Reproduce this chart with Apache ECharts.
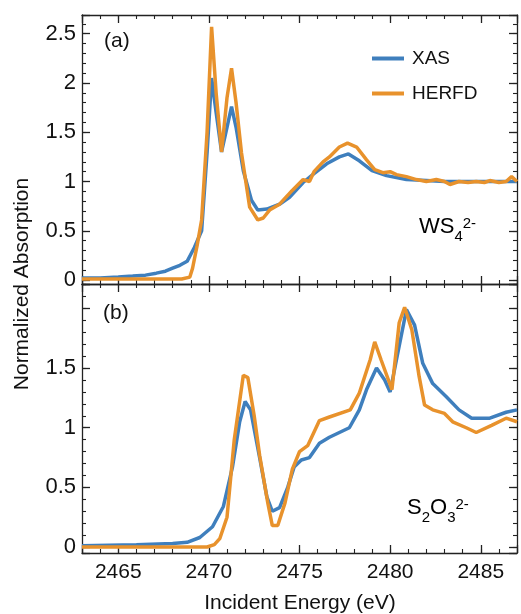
<!DOCTYPE html>
<html><head><meta charset="utf-8">
<script src="https://cdn.jsdelivr.net/npm/echarts@6/dist/echarts.min.js"></script>
<style>html,body{margin:0;padding:0;background:#fff}#c{width:521px;height:614px}</style>
</head><body><div id="c"></div>
<script>
// ---- data ----
const xTickLabels = [2465, 2470, 2475, 2480, 2485];
const yLabelsA = [0, 0.5, 1, 1.5, 2, 2.5];
const yLabelsB = [0, 0.5, 1, 1.5];

// Panel (a) WS4 2-
const ws4Xas = [[2463,0.02],[2464,0.02],[2465,0.03],[2465.8,0.04],[2466.5,0.05],[2467.1,0.07],[2467.6,0.09],[2468,0.12],[2468.4,0.15],[2468.8,0.19],[2469.2,0.33],[2469.6,0.5],[2469.9,1.29],[2470.15,2.05],[2470.4,1.7],[2470.7,1.30],[2471.0,1.55],[2471.25,1.76],[2471.5,1.55],[2471.9,1.11],[2472.35,0.81],[2472.7,0.71],[2473.2,0.72],[2473.9,0.77],[2474.45,0.84],[2475.2,0.99],[2475.8,1.08],[2476.5,1.18],[2477.2,1.25],[2477.7,1.28],[2478.3,1.21],[2479.0,1.11],[2479.8,1.06],[2480.9,1.02],[2482,1.01],[2483,1.0],[2484,1.0],[2485,1.0],[2486,1.0],[2487,1.0]];
const ws4Herfd = [[2463,0.01],[2465,0.01],[2467,0.01],[2468.5,0.01],[2468.95,0.03],[2469.1,0.12],[2469.35,0.35],[2469.6,0.61],[2469.9,1.5],[2470.15,2.57],[2470.4,1.9],[2470.7,1.30],[2471.0,1.85],[2471.25,2.15],[2471.5,1.8],[2471.8,1.29],[2472.25,0.74],[2472.7,0.61],[2473.0,0.63],[2473.35,0.71],[2473.9,0.77],[2474.6,0.91],[2475.2,1.02],[2475.55,1.0],[2475.8,1.10],[2476.3,1.20],[2476.65,1.25],[2477.2,1.35],[2477.65,1.39],[2478.15,1.35],[2478.7,1.22],[2479.15,1.12],[2479.6,1.09],[2480.0,1.10],[2480.35,1.07],[2480.9,1.05],[2481.45,1.02],[2482.0,1.0],[2482.55,1.02],[2483.0,1.0],[2483.3,0.97],[2483.8,1.0],[2484.3,0.99],[2484.75,1.0],[2485.2,0.99],[2485.5,1.01],[2486.0,0.99],[2486.4,1.0],[2486.7,1.05],[2487,1.0]];

// Panel (b) S2O3 2-
const s2o3Xas = [[2463,0.01],[2466,0.02],[2468,0.03],[2468.8,0.04],[2469.5,0.08],[2470.2,0.17],[2470.8,0.34],[2471.3,0.67],[2471.7,1.05],[2472.0,1.22],[2472.3,1.15],[2472.8,0.75],[2473.2,0.42],[2473.5,0.30],[2473.9,0.33],[2474.35,0.50],[2474.7,0.67],[2475.1,0.73],[2475.55,0.75],[2476.1,0.87],[2476.65,0.92],[2477.2,0.96],[2477.75,1.0],[2478.3,1.15],[2478.7,1.32],[2479.25,1.50],[2479.7,1.40],[2480.0,1.30],[2480.35,1.57],[2480.9,1.99],[2481.35,1.86],[2481.8,1.54],[2482.35,1.37],[2483.1,1.26],[2483.8,1.15],[2484.5,1.08],[2485.5,1.08],[2486.4,1.13],[2487,1.15]];
const s2o3Herfd = [[2463,0.0],[2469.9,0.0],[2470.3,0.02],[2470.6,0.07],[2471.0,0.25],[2471.4,0.9],[2471.9,1.44],[2472.15,1.42],[2472.5,1.1],[2472.8,0.77],[2473.25,0.37],[2473.5,0.18],[2473.8,0.18],[2474.2,0.37],[2474.6,0.65],[2475.0,0.80],[2475.45,0.85],[2476.1,1.06],[2476.65,1.09],[2477.8,1.15],[2478.3,1.29],[2478.9,1.57],[2479.15,1.72],[2479.5,1.57],[2480.1,1.32],[2480.5,1.88],[2480.8,2.01],[2481.2,1.82],[2481.6,1.43],[2481.9,1.19],[2482.35,1.15],[2483.0,1.12],[2483.45,1.05],[2484.2,1.0],[2484.75,0.96],[2485.6,1.02],[2486.4,1.08],[2487,1.05]];

// ---- styling / layout ----
const FONT = 'Liberation Sans, Arial, sans-serif';
const BLUE = '#3f7fbd', ORANGE = '#e8922c';
const lineCol = '#222';
const inList = (list, v) => list.some(t => Math.abs(t - v) < 1e-6);

// splitNumber chosen so the nice interval is 5 / 1 on x and 0.5 / 0.1 on y
function majorAxis(g, pos, min, max, label) {
  return { type: 'value', gridIndex: g, position: pos, splitNumber: 5, min: min, max: max,
    splitLine: { show: false },
    axisLine: { show: true, onZero: false, lineStyle: { color: lineCol, width: 1.3 } },
    axisTick: { show: true, inside: true, length: 8, lineStyle: { color: lineCol, width: 1.3 } },
    axisLabel: label || { show: false } };
}
function minorAxis(g, pos, min, max, split) {
  return { type: 'value', gridIndex: g, position: pos, splitNumber: split, min: min, max: max,
    splitLine: { show: false },
    axisLine: { show: false, onZero: false },
    axisTick: { show: true, inside: true, length: 4, lineStyle: { color: lineCol, width: 1.1 } },
    axisLabel: { show: false } };
}
const xLab = { show: true, fontFamily: FONT, fontSize: 21, color: '#111', margin: 9,
  formatter: v => inList(xTickLabels, v) ? String(Math.round(v)) : '' };
const yLab = labels => ({ show: true, fontFamily: FONT, fontSize: 22, color: '#111', margin: 6,
  formatter: v => inList(labels, v) ? String(Math.round(v * 2) / 2) : '' });

const X0 = 2463, X1 = 2487;
const YA0 = -0.04, YA1 = 2.69, YB0 = -0.05, YB1 = 2.205;
const xAxis = [
  majorAxis(0, 'bottom', X0, X1), minorAxis(0, 'bottom', X0, X1, 24), majorAxis(0, 'top', X0, X1), minorAxis(0, 'top', X0, X1, 24),
  majorAxis(1, 'bottom', X0, X1, xLab), minorAxis(1, 'bottom', X0, X1, 24), majorAxis(1, 'top', X0, X1), minorAxis(1, 'top', X0, X1, 24)
];
const yAxis = [
  majorAxis(0, 'left', YA0, YA1, yLab(yLabelsA)), minorAxis(0, 'left', YA0, YA1, 27), majorAxis(0, 'right', YA0, YA1), minorAxis(0, 'right', YA0, YA1, 27),
  majorAxis(1, 'left', YB0, YB1, yLab(yLabelsB)), minorAxis(1, 'left', YB0, YB1, 22), majorAxis(1, 'right', YB0, YB1), minorAxis(1, 'right', YB0, YB1, 22)
];

function ser(name, data, color, idx) {
  return { type: 'line', name: name, data: data, xAxisIndex: idx, yAxisIndex: idx, showSymbol: false,
    lineStyle: { color: color, width: 3.5 }, itemStyle: { color: color } };
}

const chemRich = {
  b: { fontFamily: FONT, fontSize: 22, lineHeight: 22, color: '#111', verticalAlign: 'top' },
  sub: { fontFamily: FONT, fontSize: 15, lineHeight: 15, color: '#111', verticalAlign: 'top', padding: [13, 0, 0, 0] },
  sup: { fontFamily: FONT, fontSize: 15, lineHeight: 15, color: '#111', verticalAlign: 'top' }
};

const option = {
  animation: false,
  grid: [
    { left: 82, top: 15, width: 435, height: 269 },
    { left: 82, top: 284, width: 435, height: 269 }
  ],
  xAxis: xAxis,
  yAxis: yAxis,
  legend: {
    data: ['XAS', 'HERFD'], orient: 'vertical', left: 367, top: 44, itemWidth: 32, itemHeight: 4, itemGap: 16,
    icon: 'rect', textStyle: { fontFamily: FONT, fontSize: 19, color: '#111', padding: [0, 0, 0, 3] }
  },
  series: [
    ser('XAS', ws4Xas, BLUE, 0),
    ser('HERFD', ws4Herfd, ORANGE, 0),
    ser('XAS', s2o3Xas, BLUE, 4),
    ser('HERFD', s2o3Herfd, ORANGE, 4)
  ],
  graphic: [
    { type: 'text', left: 104, top: 31, style: { text: '(a)', font: '21px ' + FONT, fill: '#111' } },
    { type: 'text', left: 103, top: 303, style: { text: '(b)', font: '21px ' + FONT, fill: '#111' } },
    { type: 'text', left: 419, top: 216, style: { text: '{b|WS}{sub|4}{sup|2-}', rich: chemRich } },
    { type: 'text', left: 407, top: 497, style: { text: '{b|S}{sub|2}{b|O}{sub|3}{sup|2-}', rich: chemRich } },
    { type: 'text', x: 300, y: 603, style: { text: 'Incident Energy (eV)', font: '21px ' + FONT, fill: '#111', align: 'center', verticalAlign: 'middle' } },
    { type: 'text', x: 22, y: 284, rotation: Math.PI / 2,
      style: { text: 'Normalized Absorption', font: '21px ' + FONT, fill: '#111', align: 'center', verticalAlign: 'middle' } }
  ]
};
const chart = echarts.init(document.getElementById('c'));
chart.setOption(option);
</script></body></html>
